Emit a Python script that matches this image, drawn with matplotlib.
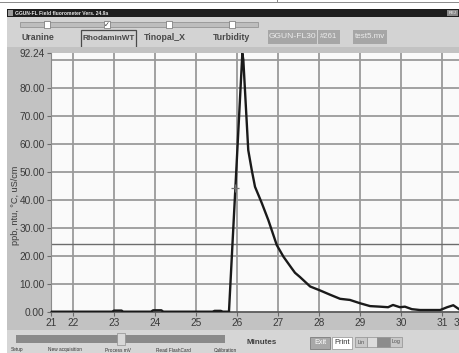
import numpy as np
import matplotlib.pyplot as plt
from matplotlib.patches import Rectangle

plt.rcParams['font.family'] = ['Liberation Sans', 'DejaVu Sans']

# Rhodamine WT trace (minutes, ppb)
minutes = [21.46, 22.95, 23.0, 23.18, 23.22, 23.9, 23.95, 24.15, 24.2, 25.4, 25.45, 25.6, 25.65,
           25.8, 26.126, 26.15, 26.27, 26.355, 26.435, 26.60, 26.76, 26.965, 27.13, 27.33,
           27.41, 27.53, 27.78, 28.02, 28.26, 28.51, 28.75, 29.0, 29.24, 29.48, 29.68, 29.80,
           29.97, 30.09, 30.26, 30.46, 30.95, 31.12, 31.27, 31.44]
rhodamine = [0.0, 0.0, 0.4, 0.4, 0.0, 0.0, 0.5, 0.5, 0.0, 0.0, 0.3, 0.3, 0.0,
             0.0, 92.24, 89.9, 57.7, 50.6, 44.6, 38.8, 32.7, 23.8, 19.6, 15.5,
             13.9, 12.4, 9.0, 7.6, 6.1, 4.6, 4.2, 3.0, 2.0, 1.8, 1.6, 2.4,
             1.6, 1.8, 0.9, 0.6, 0.6, 1.6, 2.3, 0.6]

# second channel, nearly flat
temp_minutes = [21.46, 22.22, 22.22, 31.58]
temp_values = [24.1, 24.1, 24.0, 24.0]

cursor = (25.95, 44.3)

x_ticks = [21.46, 22, 23, 24, 25, 26, 27, 28, 29, 30, 31, 31.58]
x_labels = ['21', '22', '23', '24', '25', '26', '27', '28', '29', '30', '31', '31.58']
y_ticks = [0, 10, 20, 30, 40, 50, 60, 70, 80, 92.24]
y_labels = ['0.00', '10.00', '20.00', '30.00', '40.00', '50.00', '60.00', '70.00', '80.00', '92.24']

W, H = 460, 353
fig = plt.figure(figsize=(W / 100, H / 100), dpi=100)
fig.patch.set_facecolor('white')


def box(x0, y0, x1, y1, fc, ec='none', lw=0):
    fig.patches.append(Rectangle((x0 / W, 1 - y1 / H), (x1 - x0) / W, (y1 - y0) / H,
                                 transform=fig.transFigure, fc=fc, ec=ec, lw=lw, zorder=0))


def txt(x, y, s, **kw):
    fig.text(x / W, 1 - y / H, s, **kw)


# window frame bits
box(0, 2, 460, 3, '#8c8c8c')
box(277, 0, 278, 3, '#8c8c8c')
box(7, 9, 460, 17, '#1e1e1e')
box(8, 10.5, 13, 15.5, '#9a9a9a')
txt(15, 13.2, 'GGUN-FL Field fluorometer Vers. 24.9a', fontsize=3.6, color='#e8e8e8',
    weight='bold', va='center')
box(447, 10, 458, 16, '#8a8a8a')
txt(452.5, 13, 'REJ', fontsize=3, color='white', ha='center', va='center')

# top control panel
box(7, 17, 460, 47, '#d3d3d3')
box(20, 22, 258, 27, '#bdbdbd', ec='#8a8a8a', lw=0.5)
for cx, checked in [(47, False), (107, True), (169, False), (232, False)]:
    box(cx - 3, 21, cx + 3, 28, 'white', ec='#707070', lw=0.5)
    if checked:
        txt(cx, 24.5, '\u2713', fontsize=5, ha='center', va='center', color='#303030',
            family=['DejaVu Sans'])
for lx, s, fs in [(38, 'Uranine', 6.3), (108.5, 'RhodaminWT', 5.9),
                  (165, 'Tinopal_X', 6.3), (232, 'Turbidity', 6.3)]:
    txt(lx, 38, s, fontsize=fs, weight='bold', color='#484848', ha='center', va='center')
box(81, 30, 136, 48, 'none', ec='#4a4a4a', lw=0.9)
box(268, 30, 317, 44, '#a6a6a6')
box(318, 30, 340, 44, '#a6a6a6')
box(353, 30, 387, 44, '#a6a6a6')
txt(292.5, 37, 'GGUN-FL30', fontsize=6.1, color='#ececec', ha='center', va='center')
txt(329, 37, '#261', fontsize=5.6, color='#ececec', ha='center', va='center')
txt(370, 37, 'test5.mv', fontsize=5.8, color='#ececec', ha='center', va='center')

# chart panel
box(7, 47, 460, 330, '#c2c2c2')
# bottom panel
box(7, 330, 460, 353, '#d6d6d6')
box(16, 335, 225, 343, '#8a8a8a')
box(117, 333, 125, 345, '#d8d8d8', ec='#909090', lw=0.5)
for lx, s in [(17, 'Setup'), (65, 'New acquisition'), (118, 'Process mV'),
              (173, 'Read FlashCard'), (225, 'Calibration')]:
    txt(lx, 350, s, fontsize=3.4, color='#303030', ha='center', va='center')
    box(lx - 0.3, 345.5, lx + 0.3, 347, '#606060')
txt(262, 342, 'Minutes', fontsize=5.8, weight='bold', color='#404040', ha='center', va='center')
box(310, 337, 330, 349, '#a8a8a8', ec='#707070', lw=0.5)
txt(320, 343, 'Exit', fontsize=5.2, color='white', ha='center', va='center')
box(332, 337, 352, 349, 'white', ec='#909090', lw=0.5)
txt(342, 343, 'Print', fontsize=5.4, color='#303030', ha='center', va='center')
box(355, 337, 367, 347, '#c8c8c8', ec='#909090', lw=0.5)
box(367, 337, 377, 347, '#dcdcdc', ec='#909090', lw=0.5)
box(377, 337, 390, 347, '#8c8c8c', ec='#909090', lw=0.5)
box(390, 337, 402, 347, '#c8c8c8', ec='#909090', lw=0.5)
txt(361, 342, 'Lin', fontsize=3.8, color='#505050', ha='center', va='center')
txt(396, 342, 'Log', fontsize=3.8, color='#505050', ha='center', va='center')

# plot axes (extends a bit past the right edge, like the screenshot)
ax_l, ax_r, ax_t, ax_b = 51, 466, 53.4, 311.7
ax = fig.add_axes([ax_l / W, 1 - ax_b / H, (ax_r - ax_l) / W, (ax_b - ax_t) / H])
ax.set_zorder(5)
ax.set_facecolor('#fafafa')
ax.set_xlim(x_ticks[0], x_ticks[-1])
ax.set_ylim(0, 92.24)

grid_kw = dict(color='#9a9a9a', lw=1.3, zorder=1)
for gx in x_ticks[1:-1]:
    ax.axvline(gx, **grid_kw)
for gy in [10, 20, 30, 40, 50, 60, 70, 80, 90]:
    ax.axhline(gy, **grid_kw)

ax.plot(temp_minutes, temp_values, color='#6c6c6c', lw=1.0, zorder=2)
ax.plot(minutes, rhodamine, color='#1a1a1a', lw=1.7, zorder=3, solid_joinstyle='round')
ax.plot(*cursor, marker='+', ms=6, mew=0.9, color='#707070', zorder=4)

ax.set_xticks(x_ticks)
ax.set_xticklabels(x_labels)
ax.set_yticks(y_ticks)
ax.set_yticklabels(y_labels)
ax.tick_params(axis='both', labelsize=7.3, labelcolor='#3a3a3a', color='#6a6a6a',
               length=3, width=0.8, pad=1.5)
for side in ['top', 'right']:
    ax.spines[side].set_visible(False)
ax.spines['left'].set_color('#8a8a8a')
ax.spines['bottom'].set_color('#5a5a5a')
ax.spines['bottom'].set_linewidth(1.3)

txt(16, 205, 'ppb, ntu, \u00b0C, uS/cm', fontsize=6.6, color='#3a3a3a', rotation=90,
    ha='center', va='center', zorder=6)

fig.savefig('out.png', dpi=100, facecolor=fig.get_facecolor())
